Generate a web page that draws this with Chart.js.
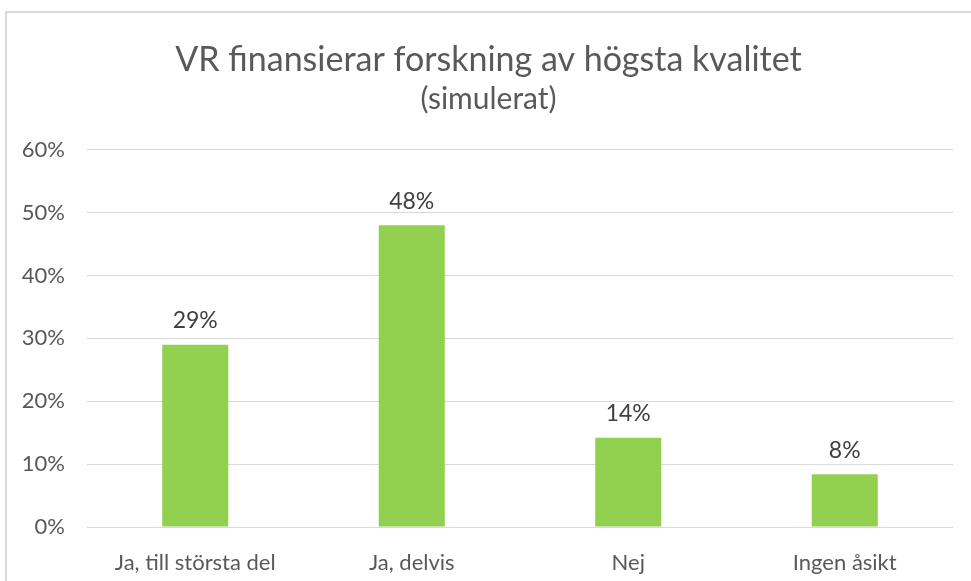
<!DOCTYPE html>
<html>
<head>
<meta charset="utf-8">
<script src="https://cdn.jsdelivr.net/npm/chart.js@4/dist/chart.umd.min.js"></script>
<style>
  html, body { margin: 0; padding: 0; background: #fff; overflow: hidden; }
  #frame { position: absolute; left: 5px; top: 11px; width: 1000px; height: 600px; border: 2px solid #d9d9d9; }
  #wrap { position: absolute; left: 0; top: 0; width: 971px; height: 581px; }
</style>
</head>
<body>
<div id="frame"></div>
<div id="wrap"><canvas id="chart" width="971" height="581"></canvas></div>
<script>
const categories = ['Ja, till största del', 'Ja, delvis', 'Nej', 'Ingen åsikt'];
const values = [29, 48, 14.2, 8.4];
const yTicks = [0, 10, 20, 30, 40, 50, 60];

const fontFamily = 'Lato, "Open Sans", sans-serif';

const barLabels = {
  id: 'barLabels',
  afterDatasetsDraw(chart) {
    const ctx = chart.ctx;
    ctx.save();
    ctx.font = '23px ' + fontFamily;
    ctx.fillStyle = '#404040';
    ctx.textAlign = 'center';
    ctx.textBaseline = 'middle';
    chart.getDatasetMeta(0).data.forEach((bar, i) => {
      ctx.fillText(Math.round(values[i]) + '%', bar.x, bar.y - 24);
    });
    ctx.restore();
  }
};

new Chart(document.getElementById('chart').getContext('2d'), {
  type: 'bar',
  data: {
    labels: categories,
    datasets: [{
      data: values,
      backgroundColor: '#92d050',
      borderWidth: 0,
      categoryPercentage: 1,
      barPercentage: 0.305
    }]
  },
  options: {
    responsive: false,
    animation: false,
    layout: { padding: { left: 6, right: 0, top: 0, bottom: 0 } },
    plugins: {
      legend: { display: false },
      tooltip: { enabled: false },
      title: {
        display: true,
        text: 'VR finansierar forskning av högsta kvalitet',
        color: '#595959',
        font: { family: fontFamily, size: 34, weight: 'normal', lineHeight: 1.2 },
        padding: { top: 40, bottom: 1 }
      },
      subtitle: {
        display: true,
        text: '(simulerat)',
        color: '#595959',
        font: { family: fontFamily, size: 30, weight: 'normal', lineHeight: 1.2 },
        padding: { top: 0, bottom: 32 }
      }
    },
    scales: {
      x: {
        grid: { display: false },
        border: { display: false },
        ticks: { color: '#595959', font: { family: fontFamily, size: 22 }, padding: 15 },
        afterFit(scale) { scale.height = 54; }
      },
      y: {
        min: 0,
        max: 60,
        afterBuildTicks(scale) { scale.ticks = yTicks.map(v => ({ value: v })); },
        grid: { color: '#d9d9d9', drawTicks: false },
        border: { display: false },
        ticks: {
          color: '#595959',
          font: { family: fontFamily, size: 22 },
          padding: 22,
          callback: v => v + '%'
        },
        afterFit(scale) { scale.width = 81; }
      },
      // empty right margin
      yRight: {
        position: 'right',
        min: 0,
        max: 60,
        grid: { display: false },
        border: { display: false },
        ticks: { display: false },
        afterFit(scale) { scale.width = 18; }
      }
    }
  },
  plugins: [barLabels]
});
</script>
</body>
</html>
